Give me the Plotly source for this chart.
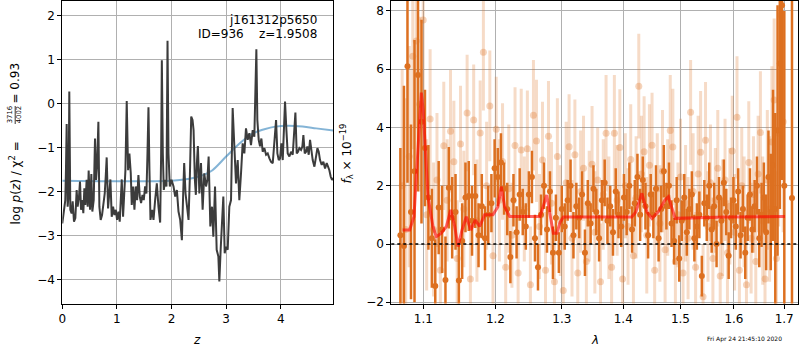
import plotly.graph_objects as go

# ---------------- redshift probability p(z) ----------------
z_grid = [0.000, 0.018, 0.037, 0.055, 0.067, 0.080, 0.098, 0.116, 0.128, 0.147, 0.171, 0.190,
          0.214, 0.239, 0.263, 0.281, 0.306, 0.324, 0.343, 0.367, 0.385, 0.404, 0.422, 0.446,
          0.465, 0.483, 0.508, 0.532, 0.550, 0.575, 0.599, 0.618, 0.636, 0.661, 0.679, 0.703,
          0.728, 0.752, 0.777, 0.795, 0.813, 0.838, 0.862, 0.881, 0.905, 0.930, 0.954, 0.979,
          1.003, 1.028, 1.052, 1.076, 1.089, 1.113, 1.138, 1.156, 1.180, 1.205, 1.229, 1.254,
          1.272, 1.297, 1.321, 1.346, 1.370, 1.394, 1.419, 1.443, 1.468, 1.492, 1.517, 1.541,
          1.560, 1.578, 1.596, 1.615, 1.645, 1.670, 1.700, 1.731, 1.761, 1.792, 1.810, 1.823,
          1.841, 1.859, 1.884, 1.908, 1.927, 1.945, 1.969, 2.000, 2.037, 2.067, 2.098, 2.128,
          2.159, 2.190, 2.214, 2.232, 2.257, 2.281, 2.312, 2.336, 2.361, 2.385, 2.404, 2.428,
          2.446, 2.465, 2.483, 2.510, 2.540, 2.570, 2.600, 2.632, 2.657, 2.680, 2.711, 2.742,
          2.766, 2.797, 2.827, 2.858, 2.876, 2.900, 2.925, 2.949, 2.974, 2.998, 3.029, 3.059,
          3.090, 3.120, 3.151, 3.181, 3.212, 3.242, 3.273, 3.303, 3.334, 3.364, 3.395, 3.426,
          3.456, 3.487, 3.517, 3.535, 3.554, 3.572, 3.597, 3.621, 3.646, 3.670, 3.701, 3.732,
          3.762, 3.793, 3.823, 3.854, 3.884, 3.915, 3.939, 3.964, 3.988, 4.012, 4.037, 4.061,
          4.079, 4.104, 4.128, 4.159, 4.189, 4.220, 4.244, 4.269, 4.293, 4.317, 4.342, 4.372,
          4.397, 4.415, 4.440, 4.464, 4.488, 4.513, 4.537, 4.562, 4.586, 4.617, 4.647, 4.672,
          4.696, 4.720, 4.751, 4.781, 4.812, 4.842, 4.867, 4.891, 4.916, 4.940, 4.963]
log_pz = [-2.73, -2.58, -2.42, -2.20, -1.52, -0.47, -2.35, -2.05, 0.27, -2.42, -2.50, -2.23,
          -2.69, -2.61, -1.97, -2.35, -2.12, -1.78, -2.42, -2.20, -2.50, -1.93, -2.31, -1.74,
          -2.35, -1.53, -2.42, -1.61, -2.46, -2.20, -0.80, -1.74, -1.44, -0.42, -2.35, -2.65,
          -2.54, -2.35, -2.05, -1.67, -1.23, -2.39, -2.05, -1.73, -2.58, -2.35, -2.54, -2.42,
          -2.65, -2.46, -2.69, -2.20, -1.73, -2.58, -2.05, -1.52, 0.05, -1.52, -1.14, -1.59,
          -2.31, -1.89, -2.42, -1.89, -2.20, -1.63, -2.12, -2.27, -2.08, -2.20, -1.89, -2.05,
          -1.14, -0.09, -1.52, -2.65, -2.42, -2.65, -2.20, -1.82, -2.35, -2.71, -1.14, 0.98,
          -1.14, -1.97, -1.74, -1.89, 1.42, -1.14, -1.89, -1.74, -1.89, -2.12, -1.97, -2.46,
          -2.65, -3.11, -2.05, -1.36, -2.05, -2.35, -2.65, -1.67, -0.30, -0.38, -0.61, -1.74,
          -2.08, -1.36, -0.97, -2.05, -1.36, -2.42, -1.59, -1.89, -1.74, -1.21, -2.80, -2.35,
          -3.03, -1.89, -3.33, -3.48, -4.05, -3.33, -2.65, -2.12, -3.41, -3.26, -3.33, -2.35,
          -2.20, -0.11, -0.98, -1.82, -1.29, -2.20, -1.59, -0.91, -1.14, -0.57, -0.83, -0.68,
          -0.95, -0.61, -0.76, 0.38, 1.23, -0.38, -0.83, -0.98, -0.80, -1.10, -1.02, -1.17,
          -1.14, -1.25, -1.33, -1.36, -0.83, -0.38, -1.14, -1.29, -1.25, -0.91, -1.29, -0.61,
          0.04, -0.61, -1.14, -1.21, -1.10, -1.17, -0.61, -0.21, -1.14, -1.10, -1.02, -1.06,
          -0.98, -0.72, -1.14, -1.10, -0.98, -1.17, -0.83, -1.14, -1.29, -1.44, -1.14, -1.02,
          -1.10, -1.29, -1.40, -1.33, -1.48, -1.36, -1.44, -1.52, -1.67, -1.74, -1.70]

# prior on z
z_prior = [0.0, 1.0, 2.0, 2.3, 2.45, 2.6, 2.75, 3.0, 3.25, 3.5, 3.7, 3.9, 4.15, 4.4, 4.65, 4.963]
log_prior = [-1.76, -1.77, -1.76, -1.72, -1.68, -1.62, -1.52, -1.21, -0.91, -0.68, -0.59,
             -0.53, -0.51, -0.53, -0.57, -0.62]

# ---------------- 1D spectrum ----------------
wave_a = [1.0700, 1.0746, 1.0792, 1.0838, 1.0884, 1.0930, 1.0976, 1.1022, 1.1068, 1.1114,
          1.1160, 1.1206, 1.1252, 1.1298, 1.1344, 1.1390, 1.1436, 1.1482, 1.1528, 1.1574,
          1.1620, 1.1666, 1.1712, 1.1758, 1.1804, 1.1850, 1.1896, 1.1942, 1.1988, 1.2034,
          1.2080, 1.2126, 1.2172, 1.2218, 1.2264, 1.2310, 1.2356, 1.2402, 1.2448, 1.2494,
          1.2540, 1.2586, 1.2632, 1.2678, 1.2724, 1.2770, 1.2816, 1.2862, 1.2908, 1.2954,
          1.3000, 1.3046, 1.3092, 1.3138, 1.3184, 1.3230, 1.3276, 1.3322, 1.3368, 1.3414,
          1.3460, 1.3506, 1.3552, 1.3598, 1.3644, 1.3690, 1.3736, 1.3782, 1.3828, 1.3874,
          1.3920, 1.3966, 1.4012, 1.4058, 1.4104, 1.4150, 1.4196, 1.4242, 1.4288, 1.4334,
          1.4380, 1.4426, 1.4472, 1.4518, 1.4564, 1.4610, 1.4656, 1.4702, 1.4748, 1.4794,
          1.4840, 1.4886, 1.4932, 1.4978, 1.5024, 1.5070, 1.5116, 1.5162, 1.5208, 1.5254,
          1.5300, 1.5346, 1.5392, 1.5438, 1.5484, 1.5530, 1.5576, 1.5622, 1.5668, 1.5714,
          1.5760, 1.5806, 1.5852, 1.5898, 1.5944, 1.5990, 1.6036, 1.6082, 1.6128, 1.6174,
          1.6220, 1.6266, 1.6312, 1.6358, 1.6404, 1.6450, 1.6496, 1.6542, 1.6588, 1.6634,
          1.6680, 1.6726, 1.6772, 1.6818, 1.6864, 1.6910, 1.6956, 1.7002, 1.7160]
flux_a = [0.3, -0.07, 6.1, 1.1, 2.5, 5.8, 4.2, 3.3, 1.6,
          0.2, -1.44, 1.25, 0.5, -1.24, 1.93, 0.9, 1.1, -1.25,
          0.1, 1.6, 1.65, 0.8, 1.65, 0.3, 1.3, 0.2, 1.0, 1.4,
          2.6, 2.3, 2.8, 1.9, 1.2, -0.45, 1.5, 0.4, 1.7, 1.1,
          0.6, 1.7, 2.3, 0.2, -0.8, 1.0, 2.0, 0.5, 1.8, -0.3,
          0.9, -0.3, 1.2, 0.6, 1.5, 2.0, 0.3, 1.3, 0.9, 1.7,
          -0.3, 1.4, 0.7, 1.9, 1.1, 0.2, 1.5, 2.1, 0.8, 1.3,
          0.4, 1.8, 1.0, 0.6, 1.6, 1.1, 2.0, 0.5, 1.4, 2.3,
          1.0, 2.2, 1.3, 0.3, 1.7, 1.0, 1.9, 0.2, 1.2, 2.5,
          1.3, 2.0, 0.7, 0.1, 1.5, -0.5, 0.8, 1.6, 0.4, 1.2,
          1.7, 0.2, 0.6, 1.0, -1.1, 1.4, 0.9, 2.0, 0.5, 1.3,
          0.0, 1.6, 0.8, 2.1, 1.1, -0.4, 0.9, 1.5, 0.6, 1.8,
          0.3, 1.2, -0.3, 0.9, 1.7, 0.5, 1.3, 2.0, 0.2, 1.0,
          1.6, 0.4, 2.3, 1.1, 2.7, 1.2, 3.9, 6.2, 8.2, 2.0,
          1.58]
err_a = [3.0, 5.5, 4.0, 3.0, 4.5, 4.0, 3.5, 2.0, 1.8,
         1.7, 1.6, 1.6, 1.5, 1.5, 1.4, 1.4, 1.3, 1.3,
         1.3, 1.2, 1.2, 1.2, 1.1, 1.1, 1.1, 1.1, 1.0, 1.0,
         1.0, 1.0, 1.0, 0.9, 0.9, 0.9, 0.9, 0.9, 0.9, 0.8,
         0.8, 0.8, 0.9, 0.8, 0.8, 0.7, 0.8, 0.8, 0.7, 0.9,
         0.8, 0.7, 0.8, 0.8, 0.7, 0.9, 0.8, 0.8, 0.7, 0.8,
         0.8, 0.8, 0.7, 0.8, 0.8, 0.8, 0.7, 0.8, 0.8, 0.7,
         0.8, 0.8, 0.8, 0.7, 0.8, 0.8, 0.8, 0.8, 0.8, 0.8,
         0.9, 0.8, 0.8, 0.8, 0.7, 0.8, 0.8, 0.8, 0.8, 0.9,
         0.8, 0.8, 0.8, 0.8, 0.8, 0.8, 0.7, 0.8, 0.8, 0.7,
         0.8, 0.8, 0.8, 0.8, 0.7, 0.8, 0.8, 0.8, 0.8, 0.8,
         0.8, 0.7, 0.8, 0.8, 0.8, 0.8, 0.7, 0.8, 0.8, 0.8,
         0.8, 0.8, 0.9, 0.8, 0.9, 0.8, 0.9, 1.0, 1.0, 1.1,
         1.2, 1.3, 1.6, 2.0, 2.6, 3.3, 4.3, 5.0, 6.0, 6.0,
         8.0]

wave_b = [1.0723, 1.0769, 1.0815, 1.0861, 1.0907, 1.0953, 1.0999, 1.1045, 1.1091, 1.1137,
          1.1183, 1.1229, 1.1275, 1.1321, 1.1367, 1.1413, 1.1459, 1.1505, 1.1551, 1.1597,
          1.1643, 1.1689, 1.1735, 1.1781, 1.1827, 1.1873, 1.1919, 1.1965, 1.2011, 1.2057,
          1.2103, 1.2149, 1.2195, 1.2241, 1.2287, 1.2333, 1.2379, 1.2425, 1.2471, 1.2517,
          1.2563, 1.2609, 1.2655, 1.2701, 1.2747, 1.2793, 1.2839, 1.2885, 1.2931, 1.2977,
          1.3023, 1.3069, 1.3115, 1.3161, 1.3207, 1.3253, 1.3299, 1.3345, 1.3391, 1.3437,
          1.3483, 1.3529, 1.3575, 1.3621, 1.3667, 1.3713, 1.3759, 1.3805, 1.3851, 1.3897,
          1.3943, 1.3989, 1.4035, 1.4081, 1.4127, 1.4173, 1.4219, 1.4265, 1.4311, 1.4357,
          1.4403, 1.4449, 1.4495, 1.4541, 1.4587, 1.4633, 1.4679, 1.4725, 1.4771, 1.4817,
          1.4863, 1.4909, 1.4955, 1.5001, 1.5047, 1.5093, 1.5139, 1.5185, 1.5231, 1.5277,
          1.5323, 1.5369, 1.5415, 1.5461, 1.5507, 1.5553, 1.5599, 1.5645, 1.5691, 1.5737,
          1.5783, 1.5829, 1.5875, 1.5921, 1.5967, 1.6013, 1.6059, 1.6105, 1.6151, 1.6197,
          1.6243, 1.6289, 1.6335, 1.6381, 1.6427, 1.6473, 1.6519, 1.6565, 1.6611, 1.6657,
          1.6703, 1.6749, 1.6795, 1.6841, 1.6887, 1.6933, 1.6979]
flux_b = [2.0, 0.5, 3.0, 6.45, 6.97, 4.8, 7.69, 1.0, 4.29, 0.5,
          2.2, -0.9, 3.37, 1.5, 3.87, 2.82, -0.5, 3.43, 1.2, 4.5,
          -1.2, 4.26, 0.8, 3.81, 6.58, 2.0, 4.74, -0.4, 3.94, 1.5,
          2.83, -0.8, 1.9, 0.3, 3.38, -1.0, 3.23, 1.2, 3.27, -1.4,
          4.42, 3.54, 0.6, 2.88, -0.9, 3.7, 1.4, -1.3, 3.0, 0.8,
          -1.6, 2.1, 3.34, 0.2, 3.06, -1.0, 1.8, 2.6, -0.6, 1.3,
          2.74, 0.4, 2.2, -1.3, 1.7, 3.8, 0.9, -0.8, 3.8, 1.5,
          3.31, -1.2, 2.0, 0.6, 2.9, -0.4, 1.6, 5.42, 2.4, 3.17,
          0.3, 2.7, 3.39, -0.9, 1.9, 0.7, 2.5, -0.2, 1.6, 3.9,
          3.33, -0.6, 1.0, 2.3, -1.0, 1.4, 0.2, 4.52, 1.8, -0.8,
          2.4, 3.15, -1.81, 3.56, 0.6, 2.1, -0.5, 1.5, 2.6, -1.1,
          0.9, 2.2, -0.3, 1.3, 3.19, 0.4, 4.35, -0.9, 2.0, 1.1,
          -1.4, 2.8, 0.2, 1.7, -0.6, 2.4, 3.83, 0.8, -1.2, 2.2,
          1.2, 3.5, 4.94, -0.5, 3.8, 7.86, 4.2]
err_b = [4.0, 4.5, 3.8, 3.2, 3.0, 3.0, 2.8, 2.6, 2.4, 2.3,
         2.3, 2.2, 2.2, 2.1, 2.1, 2.1, 2.0, 2.0, 2.0, 2.0,
         2.0, 1.9, 2.1, 1.8, 2.0, 2.2, 1.9, 2.0, 1.8, 2.1,
         2.0, 1.9, 2.2, 1.8, 2.0, 1.9, 2.1, 1.8, 2.0, 2.0,
         1.9, 2.1, 1.8, 2.0, 2.0, 1.9, 2.1, 1.8, 2.0, 1.9,
         2.0, 2.1, 1.8, 2.0, 1.9, 2.0, 2.1, 1.8, 2.0, 1.9,
         2.0, 2.1, 1.8, 2.0, 1.9, 2.0, 2.1, 1.8, 2.0, 1.9,
         2.0, 2.1, 1.8, 2.0, 1.9, 2.0, 2.1, 1.8, 2.0, 1.9,
         2.0, 2.1, 1.8, 2.0, 1.9, 2.0, 2.1, 1.8, 2.0, 1.9,
         2.0, 2.1, 1.8, 2.0, 1.9, 2.0, 2.1, 1.8, 2.0, 1.9,
         2.0, 2.1, 1.8, 2.0, 1.9, 2.0, 2.1, 1.8, 2.0, 1.9,
         2.0, 2.1, 1.8, 2.0, 1.9, 2.0, 2.1, 1.8, 2.0, 1.9,
         2.0, 2.1, 1.9, 2.0, 2.0, 2.0, 2.1, 2.2, 2.3, 2.4,
         2.5, 2.6, 2.8, 3.0, 3.2, 3.5, 3.8]

# best-fit template
wave_model = [1.0730, 1.0820, 1.0877, 1.0930, 1.0974, 1.0999, 1.1027, 1.1062, 1.1129, 1.1174,
              1.1242, 1.1310, 1.1370, 1.1425, 1.1471, 1.1526, 1.1586, 1.1648, 1.1712, 1.1774,
              1.1844, 1.1964, 1.2036, 1.2084, 1.2134, 1.2208, 1.2663, 1.2714, 1.2766, 1.2817,
              1.2868, 1.2922, 1.2974, 1.3026, 1.4146, 1.4214, 1.4318, 1.4405, 1.4493, 1.4610,
              1.4723, 1.4784, 1.4846, 1.4905, 1.5858, 1.7017]
flux_model = [0.48, 0.48, 0.94, 3.1, 5.2, 4.6, 3.2, 1.62, 0.6, 0.25,
              0.37, 0.6, 1.17, 0.6, -0.09, 0.48, 0.94, 0.48, 0.82, 0.6,
              1.0, 1.0, 1.28, 1.97, 1.28, 0.94, 0.94, 1.28, 1.68, 1.0,
              0.37, 0.37, 0.75, 0.93, 0.93, 1.1, 1.74, 1.1, 0.88, 1.12,
              1.51, 1.62, 1.28, 0.88, 0.93, 0.94]

lam_ticks = [1.1, 1.2, 1.3, 1.4, 1.5, 1.6, 1.7]

FONT = "DejaVu Sans"
W, H = 800, 350
ORANGE = "rgb(221,112,32)"
ORANGE_A = "rgba(221,112,32,0.25)"


def px(x, y):
    return x / W, 1 - y / H


fig = go.Figure()

fig.add_trace(go.Scatter(x=z_prior, y=log_prior, mode="lines", line_shape="spline",
                         line=dict(color="rgba(31,119,180,0.55)", width=2),
                         xaxis="x", yaxis="y", showlegend=False))
fig.add_trace(go.Scatter(x=z_grid, y=log_pz, mode="lines",
                         line=dict(color="#3c3c3c", width=2),
                         xaxis="x", yaxis="y", showlegend=False))

fig.add_trace(go.Scatter(x=wave_b, y=flux_b, mode="markers",
                         marker=dict(size=7, color="rgba(221,112,32,0.3)", line=dict(width=0)),
                         error_y=dict(type="data", array=err_b, color=ORANGE_A, thickness=3, width=0),
                         xaxis="x2", yaxis="y2", showlegend=False))
fig.add_trace(go.Scatter(x=wave_a, y=flux_a, mode="markers",
                         marker=dict(size=6, color=ORANGE, line=dict(width=0)),
                         error_y=dict(type="data", array=err_a, color=ORANGE, thickness=2.5, width=0),
                         xaxis="x2", yaxis="y2", showlegend=False))
fig.add_trace(go.Scatter(x=wave_model, y=flux_model, mode="lines",
                         line=dict(color="rgba(255,0,0,0.6)", width=3),
                         xaxis="x2", yaxis="y2", showlegend=False))

fig.add_shape(type="line", xref="x2 domain", yref="y2", x0=0, x1=1, y0=0, y1=0,
              line=dict(color="black", width=1.5, dash="dot"), layer="above")

axis_common = dict(showgrid=True, gridcolor="#b0b0b0", gridwidth=0.8, zeroline=False,
                   showline=True, mirror=True, linecolor="black", linewidth=1,
                   ticks="outside", ticklen=4, tickcolor="black", tickwidth=1,
                   automargin=False,
                   tickfont=dict(family=FONT, size=12, color="black"))

ydom = [1 - 303.5 / H, 1 - 1 / H]
fig.update_layout(
    width=W, height=H, margin=dict(l=0, r=0, t=0, b=0, autoexpand=False),
    paper_bgcolor="white", plot_bgcolor="white",
    font=dict(family=FONT, size=12, color="black"),
    xaxis=dict(domain=[62.3 / W, 333.3 / W], range=[0, 4.963], tickvals=[0, 1, 2, 3, 4],
               anchor="y", **axis_common),
    yaxis=dict(domain=ydom, range=[-4.55, 2.325], tickvals=[-4, -3, -2, -1, 0, 1, 2],
               anchor="x", **axis_common),
    xaxis2=dict(domain=[391.3 / W, 798 / W], type="log", range=[0.02463, 0.23767],
                tickvals=lam_ticks, ticktext=[f"{v:.1f}" for v in lam_ticks],
                anchor="y2", **axis_common),
    yaxis2=dict(domain=ydom, range=[-2.043, 8.343], tickvals=[-2, 0, 2, 4, 6, 8],
                anchor="x2", **axis_common),
)

ann = []


def add_text(text, x, y, size=12, angle=0, xanchor="center", yanchor="middle"):
    ax, ay = px(x, y)
    ann.append(dict(text=text, x=ax, y=ay, xref="paper", yref="paper", showarrow=False,
                    textangle=angle, xanchor=xanchor, yanchor=yanchor,
                    font=dict(family=FONT, size=size, color="black")))


add_text("j161312p5650", 319, 20, xanchor="right")
add_text("ID=936\u00a0\u00a0\u00a0\u00a0z=1.9508", 319, 34, xanchor="right")

# left y-axis label, assembled from pieces
add_text("log <i>p</i>(<i>z</i>) / χ<sup>2</sup> =", 14.5, 183, angle=-90)
add_text("3716<br>4002", 15.2, 115, size=6.8, angle=-90)
add_text("= 0.93", 14.5, 83, angle=-90)
fx, fy0 = px(15.2, 106)
_, fy1 = px(15.2, 124)
fig.add_shape(type="line", xref="paper", yref="paper", x0=fx, x1=fx, y0=fy0, y1=fy1,
              line=dict(color="black", width=0.8))

add_text("<i>f</i><sub>λ</sub> × 10<sup>−19</sup>", 346, 153.5, angle=-90)
add_text("<i>z</i>", 197, 340)
add_text("<i>λ</i>", 594.5, 340)
add_text("Fri Apr 24 21:45:10 2020", 744.5, 339, size=6)

fig.update_layout(annotations=ann)
fig.write_html("out.html")
